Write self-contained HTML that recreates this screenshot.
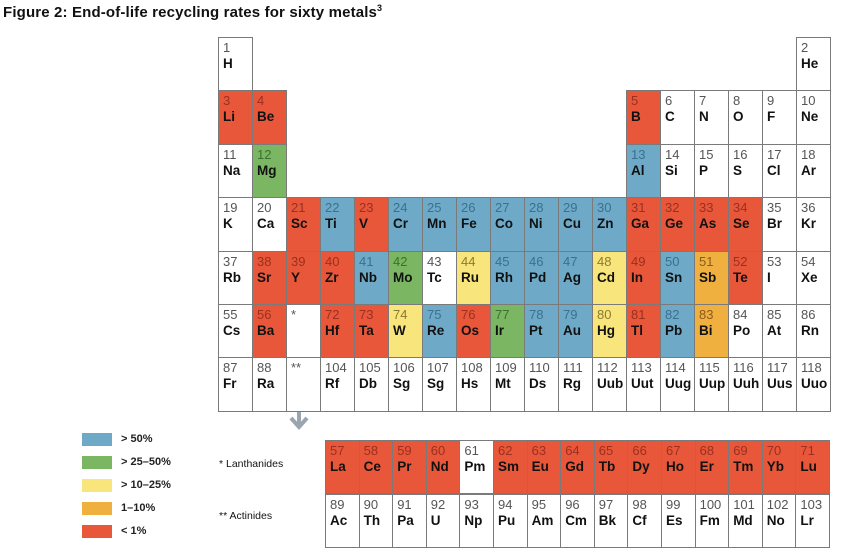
<!DOCTYPE html>
<html><head><meta charset="utf-8"><style>
body{margin:0;width:843px;height:559px;background:#fff;position:relative;overflow:hidden;font-family:"Liberation Sans","DejaVu Sans",sans-serif}
#title{position:absolute;left:3px;top:3px;font-weight:bold;font-size:15px;color:#111;letter-spacing:0.15px}
#title sup{font-size:9px}
.cell{position:absolute;box-sizing:border-box;border:1px solid #7a7a7a;}
.num{position:absolute;left:4px;top:2px;font-size:13px;color:#555;font-weight:300}
.sym{position:absolute;left:4px;top:18px;font-size:13.5px;font-weight:bold;color:#111}
.sw{position:absolute;left:82px;width:30px;height:13px}
.lt{position:absolute;left:121px;font-size:11px;font-weight:bold;color:#222}
.sl{position:absolute;font-size:10.5px;color:#111}
</style></head><body>
<div id="title">Figure 2: End-of-life recycling rates for sixty metals<sup>3</sup></div>
<svg style="position:absolute;left:288px;top:388px" width="22" height="46"><rect x="9" y="0" width="4" height="36" fill="#9aa5b0"/><polyline points="3,30 11,39 19,30" fill="none" stroke="#9aa5b0" stroke-width="4"/></svg>
<div class="sl" style="left:219px;top:458px">* Lanthanides</div>
<div class="sl" style="left:219px;top:510px">** Actinides</div>
<div id="root"></div>
<script>
const colors={b:"#6eaac8",g:"#7bb662",y:"#f8e57c",o:"#f0b040",r:"#e8573a",w:"#ffffff"};
const numColors={b:"#3a7090",g:"#3a7030",y:"#8a7a30",o:"#8a5a20",r:"#9a3020",w:"#555"};
const legendLabels=["> 50%","> 25–50%","> 10–25%","1–10%","< 1%"];
const legendKeys=["b","g","y","o","r"];
// [row, col, number, symbol, category]
const mainTable=[
[1,1,"1","H","w"],[1,18,"2","He","w"],
[2,1,"3","Li","r"],[2,2,"4","Be","r"],[2,13,"5","B","r"],[2,14,"6","C","w"],[2,15,"7","N","w"],[2,16,"8","O","w"],[2,17,"9","F","w"],[2,18,"10","Ne","w"],
[3,1,"11","Na","w"],[3,2,"12","Mg","g"],[3,13,"13","Al","b"],[3,14,"14","Si","w"],[3,15,"15","P","w"],[3,16,"16","S","w"],[3,17,"17","Cl","w"],[3,18,"18","Ar","w"],
[4,1,"19","K","w"],[4,2,"20","Ca","w"],[4,3,"21","Sc","r"],[4,4,"22","Ti","b"],[4,5,"23","V","r"],[4,6,"24","Cr","b"],[4,7,"25","Mn","b"],[4,8,"26","Fe","b"],[4,9,"27","Co","b"],[4,10,"28","Ni","b"],[4,11,"29","Cu","b"],[4,12,"30","Zn","b"],[4,13,"31","Ga","r"],[4,14,"32","Ge","r"],[4,15,"33","As","r"],[4,16,"34","Se","r"],[4,17,"35","Br","w"],[4,18,"36","Kr","w"],
[5,1,"37","Rb","w"],[5,2,"38","Sr","r"],[5,3,"39","Y","r"],[5,4,"40","Zr","r"],[5,5,"41","Nb","b"],[5,6,"42","Mo","g"],[5,7,"43","Tc","w"],[5,8,"44","Ru","y"],[5,9,"45","Rh","b"],[5,10,"46","Pd","b"],[5,11,"47","Ag","b"],[5,12,"48","Cd","y"],[5,13,"49","In","r"],[5,14,"50","Sn","b"],[5,15,"51","Sb","o"],[5,16,"52","Te","r"],[5,17,"53","I","w"],[5,18,"54","Xe","w"],
[6,1,"55","Cs","w"],[6,2,"56","Ba","r"],[6,3,"*","","w"],[6,4,"72","Hf","r"],[6,5,"73","Ta","r"],[6,6,"74","W","y"],[6,7,"75","Re","b"],[6,8,"76","Os","r"],[6,9,"77","Ir","g"],[6,10,"78","Pt","b"],[6,11,"79","Au","b"],[6,12,"80","Hg","y"],[6,13,"81","Tl","r"],[6,14,"82","Pb","b"],[6,15,"83","Bi","o"],[6,16,"84","Po","w"],[6,17,"85","At","w"],[6,18,"86","Rn","w"],
[7,1,"87","Fr","w"],[7,2,"88","Ra","w"],[7,3,"**","","w"],[7,4,"104","Rf","w"],[7,5,"105","Db","w"],[7,6,"106","Sg","w"],[7,7,"107","Sg","w"],[7,8,"108","Hs","w"],[7,9,"109","Mt","w"],[7,10,"110","Ds","w"],[7,11,"111","Rg","w"],[7,12,"112","Uub","w"],[7,13,"113","Uut","w"],[7,14,"114","Uug","w"],[7,15,"115","Uup","w"],[7,16,"116","Uuh","w"],[7,17,"117","Uus","w"],[7,18,"118","Uuo","w"]
];
const lanthanides=[["57","La","r"],["58","Ce","r"],["59","Pr","r"],["60","Nd","r"],["61","Pm","w"],["62","Sm","r"],["63","Eu","r"],["64","Gd","r"],["65","Tb","r"],["66","Dy","r"],["67","Ho","r"],["68","Er","r"],["69","Tm","r"],["70","Yb","r"],["71","Lu","r"]];
const actinides=[["89","Ac","w"],["90","Th","w"],["91","Pa","w"],["92","U","w"],["93","Np","w"],["94","Pu","w"],["95","Am","w"],["96","Cm","w"],["97","Bk","w"],["98","Cf","w"],["99","Es","w"],["100","Fm","w"],["101","Md","w"],["102","No","w"],["103","Lr","w"]];

const root=document.getElementById('root');
const CW=34,CH=53.4,X0=218,Y0=37;
function colX(c){return X0+(c-1)*CW;}
function rowY(r){return Y0+(r-1)*CH;}
function makeCell(x,y,w,h,num,sym,cat){
  const d=document.createElement('div');
  d.className='cell';
  
  
  d.style.left=x+'px';d.style.top=y+'px';d.style.width=(w+1)+'px';d.style.height=(h+1)+'px';
  d.style.background=colors[cat];
  const n=document.createElement('div');n.className='num';n.textContent=num;n.style.color=numColors[cat];
  
  
  const s=document.createElement('div');s.className='sym';s.textContent=sym;
  
  
  d.appendChild(n);d.appendChild(s);root.appendChild(d);
}
mainTable.forEach(e=>makeCell(colX(e[1]),rowY(e[0]),CW,CH,e[2],e[3],e[4]));
const FW=33.6,FX=325,LY=440,LH=53,AY=493.5,AH=53;
lanthanides.forEach((e,i)=>makeCell(FX+i*FW,LY,FW,LH,e[0],e[1],e[2]));
actinides.forEach((e,i)=>makeCell(FX+i*FW,AY,FW,AH,e[0],e[1],e[2]));
legendKeys.forEach((k,i)=>{
  const y=433+i*23;
  const sw=document.createElement('div');sw.className='sw';sw.style.top=y+'px';sw.style.background=colors[k];
  
  
  root.appendChild(sw);
  const t=document.createElement('div');t.className='lt';t.style.top=(y)+'px';t.textContent=legendLabels[i];
  
  
  root.appendChild(t);
});
</script>
</body></html>
